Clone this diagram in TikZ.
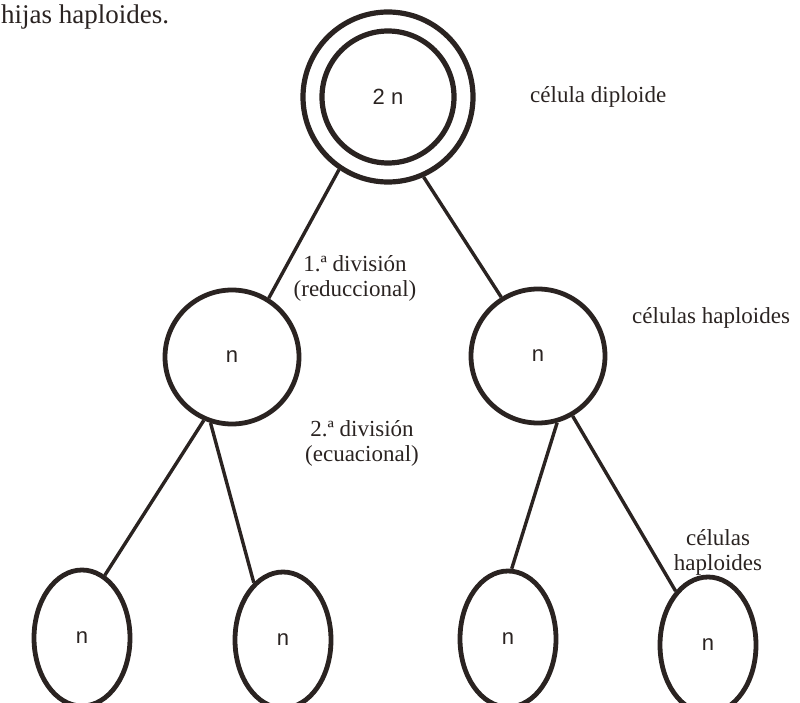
\documentclass[tikz,border=0pt]{standalone}
\usepackage{fontspec}
\setmainfont{Liberation Serif}
\newfontfamily\cellfont{Liberation Sans}
\usetikzlibrary{shapes.geometric}
\definecolor{ink}{HTML}{2A2321}
\newcommand\labelsize{\fontsize{23}{25}\selectfont}

\begin{document}
\begin{tikzpicture}[x=1pt,y=-1pt,
  cell/.style={draw=ink,line width=4.8pt,circle,inner sep=0pt,
    minimum size=134pt,text=ink,font=\cellfont\fontsize{22}{22}\selectfont},
  gamete/.style={cell,ellipse,minimum width=96pt,minimum height=136pt},
  branch/.style={draw=ink,line width=3.4pt},
  note/.style={text=ink,font=\labelsize,align=center,inner sep=0pt}]
\useasboundingbox (0,0) rectangle (800,703);
% diploid cell (double ring)
\node[cell,line width=5.2pt,minimum size=170pt] (zygote) at (388,97) {};
\node[cell,line width=5.2pt,minimum size=132pt] (zygoteIn) at (zygote) {2 n};
% first division
\node[cell] (haplL) at (232,357) {n};
\node[cell] (haplR) at (538,356) {n};
% second division
\foreach \name/\x/\y in {gamA/82/638,gamB/283/640,gamC/508/639,gamD/708/645}
  \node[gamete] (\name) at (\x,\y) {n};
\draw[branch] (zygote.236) -- (haplL.58);
\draw[branch] (zygote.294) -- (haplR.122);
\draw[branch] (haplL.246) -- (gamA.70);
\draw[branch] (haplL.252) -- (gamB.117);
\draw[branch] (haplR.286) -- (gamC.87);
\draw[branch] (haplR.300) -- (gamD.121);
% labels
\node[note,anchor=base west,font=\fontsize{27}{29}\selectfont] (pagetext) at (1,24) {hijas haploides.};
\node[note,anchor=west] (diploidnote) at (530,97) {célula diploide};
\node[note] (firstdiv) at (355,278) {1.ª división\\(reduccional)};
\node[note,anchor=west] (haplnote) at (632,318) {células haploides};
\node[note] (seconddiv) at (362,443) {2.ª división\\(ecuacional)};
\node[note] (gametenote) at (718,552) {células\\haploides};
\end{tikzpicture}
\end{document}
